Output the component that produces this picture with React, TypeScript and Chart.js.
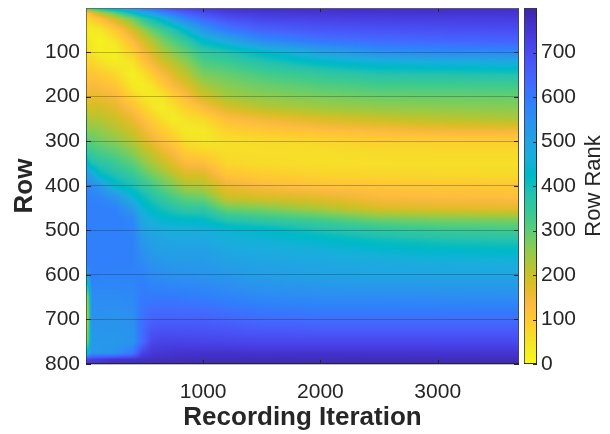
import React, { useEffect, useRef } from "react";
import { Chart, registerables } from "chart.js";

Chart.register(...registerables);

const rowStops = [1, 12, 25, 50, 75, 100, 125, 150, 175, 200, 225, 250, 275, 300, 325, 350, 375, 400, 425, 450, 475, 500, 525, 550, 575, 600, 650, 700, 750, 775, 790, 800];
const iterationStops = [1, 15, 50, 120, 250, 400, 480, 560, 650, 750, 850, 1000, 1200, 1500, 2000, 2500, 3000, 3693];

const rankAt1 = [400, 130, 90, 50, 60, 70, 90, 120, 150, 200, 300, 400, 430, 470, 500, 530, 550, 570, 570, 570, 570, 570, 570, 570, 560, 450, 300, 250, 300, 400, 700, 740];
const rankAt15 = [350, 120, 70, 40, 50, 60, 70, 110, 130, 150, 190, 220, 250, 290, 340, 430, 510, 560, 580, 590, 590, 590, 590, 590, 590, 530, 250, 220, 280, 450, 720, 750];
const rankAt50 = [360, 160, 90, 35, 35, 50, 80, 110, 140, 160, 190, 220, 260, 300, 340, 390, 500, 560, 580, 590, 590, 590, 590, 590, 590, 590, 560, 545, 530, 530, 730, 760];
const rankAt120 = [420, 220, 120, 45, 18, 30, 60, 100, 130, 160, 190, 220, 250, 280, 320, 370, 420, 530, 570, 590, 590, 590, 590, 590, 590, 580, 560, 545, 530, 530, 740, 765];
const rankAt250 = [500, 300, 200, 100, 50, 25, 35, 70, 110, 140, 170, 195, 225, 260, 300, 340, 385, 430, 540, 580, 590, 590, 590, 590, 590, 580, 560, 540, 530, 540, 760, 775];
const rankAt400 = [560, 420, 280, 190, 130, 90, 45, 25, 40, 80, 120, 160, 190, 220, 260, 300, 345, 395, 450, 520, 570, 580, 585, 585, 585, 580, 565, 550, 540, 600, 760, 778];
const rankAt480 = [600, 480, 350, 240, 180, 140, 100, 50, 30, 50, 85, 125, 160, 190, 225, 265, 310, 360, 410, 450, 490, 510, 530, 550, 565, 580, 600, 620, 630, 720, 765, 775];
const rankAt560 = [630, 520, 400, 290, 220, 180, 140, 90, 50, 35, 55, 90, 125, 160, 200, 235, 280, 330, 380, 420, 460, 490, 510, 525, 545, 560, 600, 650, 710, 745, 770, 780];
const rankAt650 = [670, 570, 450, 330, 270, 225, 180, 135, 90, 45, 30, 60, 95, 130, 165, 205, 250, 295, 345, 395, 440, 480, 495, 510, 535, 555, 600, 655, 720, 750, 772, 785];
const rankAt750 = [710, 620, 520, 380, 310, 260, 215, 175, 140, 90, 55, 30, 65, 100, 135, 170, 215, 265, 315, 370, 430, 470, 490, 510, 525, 545, 600, 655, 722, 755, 775, 785];
const rankAt850 = [720, 660, 580, 440, 350, 295, 250, 210, 170, 130, 85, 55, 40, 60, 95, 135, 180, 230, 290, 350, 425, 470, 490, 510, 525, 545, 595, 655, 718, 758, 776, 786];
const rankAt1000 = [745, 700, 640, 530, 430, 350, 310, 270, 230, 190, 130, 70, 40, 45, 80, 130, 180, 220, 280, 350, 420, 470, 490, 510, 525, 540, 590, 655, 715, 760, 778, 787];
const rankAt1200 = [760, 730, 690, 600, 480, 380, 330, 290, 260, 235, 180, 125, 85, 58, 62, 75, 110, 160, 195, 280, 370, 450, 470, 490, 510, 530, 580, 645, 715, 760, 778, 787];
const rankAt1500 = [770, 745, 715, 650, 560, 430, 370, 320, 285, 255, 215, 150, 105, 65, 60, 65, 95, 135, 180, 265, 350, 435, 460, 480, 500, 510, 565, 630, 710, 758, 778, 787];
const rankAt2000 = [770, 750, 725, 675, 610, 500, 420, 350, 310, 272, 238, 180, 125, 75, 60, 60, 80, 115, 165, 225, 320, 390, 440, 470, 490, 500, 560, 625, 708, 760, 778, 787];
const rankAt2500 = [770, 752, 730, 685, 630, 550, 450, 375, 325, 285, 250, 200, 140, 88, 68, 60, 75, 110, 135, 180, 280, 360, 410, 450, 480, 495, 560, 625, 708, 758, 778, 787];
const rankAt3000 = [770, 754, 733, 690, 640, 565, 460, 380, 328, 288, 255, 215, 150, 90, 70, 60, 72, 105, 130, 170, 270, 340, 395, 440, 475, 495, 558, 625, 708, 756, 778, 787];
const rankAt3693 = [770, 755, 735, 695, 650, 570, 470, 385, 330, 290, 260, 225, 155, 90, 70, 60, 70, 100, 125, 165, 265, 330, 385, 435, 470, 495, 555, 625, 708, 755, 778, 787];

const rankColumns = [rankAt1, rankAt15, rankAt50, rankAt120, rankAt250, rankAt400, rankAt480, rankAt560, rankAt650, rankAt750, rankAt850, rankAt1000, rankAt1200, rankAt1500, rankAt2000, rankAt2500, rankAt3000, rankAt3693];

const rowTicks = [100, 200, 300, 400, 500, 600, 700, 800];
const iterationTicks = [1000, 2000, 3000];
const rankTicks = [0, 100, 200, 300, 400, 500, 600, 700];

const parula = [
  [.2422, .1504, .6603], [.2504, .165, .7076], [.2578, .1818, .7511], [.2647, .1978, .7952], [.2706, .2147, .8364], [.2751, .2342, .871], [.2783, .2559, .8991], [.2803, .2782, .9221],
  [.2813, .3006, .9414], [.281, .3228, .9579], [.2795, .3447, .9717], [.276, .3667, .9829], [.2699, .3892, .9906], [.2602, .4123, .9952], [.244, .4358, .9988], [.2206, .4603, .9973],
  [.1963, .4847, .9892], [.1834, .5074, .9798], [.1786, .5289, .9682], [.1764, .5499, .952], [.1687, .5703, .9359], [.154, .5902, .9218], [.146, .6091, .9079], [.138, .6276, .8973],
  [.1248, .6459, .8883], [.1113, .6635, .8763], [.0952, .6798, .8598], [.0689, .6948, .8394], [.0297, .7082, .8163], [.0036, .7203, .7917], [.0067, .7312, .766], [.0433, .7411, .7394],
  [.0964, .75, .712], [.1408, .7584, .6842], [.1717, .767, .6554], [.1938, .7758, .6251], [.2161, .7843, .5923], [.247, .7918, .5567], [.2906, .7973, .5188], [.3406, .8008, .4789],
  [.3909, .8029, .4354], [.4456, .8024, .3909], [.5044, .7993, .348], [.5616, .7942, .3045], [.6174, .7876, .2612], [.672, .7793, .2227], [.7242, .7698, .191], [.7738, .7598, .1646],
  [.8203, .7498, .1535], [.8634, .7406, .1596], [.9035, .733, .1774], [.9393, .7288, .21], [.9728, .7298, .2394], [.9956, .7434, .2371], [.997, .7659, .2199], [.9952, .7861, .1967],
  [.9892, .8106, .1816], [.9786, .8386, .1717], [.9676, .8643, .162], [.961, .8919, .1535], [.9597, .9135, .1423], [.9628, .9373, .1265], [.9691, .9606, .1064], [.9769, .9839, .0805],
];

const FONT = "'Liberation Sans', Arial, sans-serif";
const INK = "#262626";

function rankColor(rank: number): number[] {
  const t = Math.min(1, Math.max(0, 1 - rank / 800)) * 63;
  const i = Math.min(62, Math.floor(t));
  const f = t - i;
  return parula[i].map((c, k) => 255 * (c + (parula[i + 1][k] - c) * f));
}

function bracket(stops: number[], v: number): [number, number] {
  let i = 0;
  while (i < stops.length - 2 && stops[i + 1] < v) i++;
  const f = Math.min(1, Math.max(0, (v - stops[i]) / (stops[i + 1] - stops[i])));
  return [i, f];
}

const noPadding = (s: any) => {
  s.paddingTop = 0;
  s.paddingBottom = 0;
  s.paddingLeft = 0;
  s.paddingRight = 0;
};

const heatPlugin = {
  id: "rankHeat",
  beforeDraw(chart: any) {
    const { ctx, chartArea: a, scales } = chart;
    const w = Math.round(a.right - a.left);
    const h = Math.round(a.bottom - a.top);
    const img = ctx.createImageData(w, h);
    const xs = [];
    for (let px = 0; px < w; px++) xs.push(bracket(iterationStops, scales.x.getValueForPixel(a.left + px + 0.5)));
    for (let py = 0; py < h; py++) {
      const [r, fr] = bracket(rowStops, scales.y.getValueForPixel(a.top + py + 0.5));
      for (let px = 0; px < w; px++) {
        const [c, fc] = xs[px];
        const top = rankColumns[c][r] * (1 - fc) + rankColumns[c + 1][r] * fc;
        const bot = rankColumns[c][r + 1] * (1 - fc) + rankColumns[c + 1][r + 1] * fc;
        const col = rankColor(top * (1 - fr) + bot * fr);
        const o = (py * w + px) * 4;
        img.data[o] = col[0];
        img.data[o + 1] = col[1];
        img.data[o + 2] = col[2];
        img.data[o + 3] = 255;
      }
    }
    ctx.putImageData(img, Math.round(a.left), Math.round(a.top));

    const bar = scales.rank;
    for (let py = Math.round(a.top); py < Math.round(a.bottom); py++) {
      const col = rankColor(bar.getValueForPixel(py + 0.5));
      ctx.fillStyle = `rgb(${col[0]},${col[1]},${col[2]})`;
      ctx.fillRect(a.right + 5, py, 13, 1);
    }
  },
  afterDraw(chart: any) {
    const { ctx, chartArea: a, scales } = chart;
    ctx.save();
    ctx.lineWidth = 1;
    const line = (x0: number, y0: number, x1: number, y1: number, color = INK) => {
      ctx.strokeStyle = color;
      ctx.beginPath();
      ctx.moveTo(x0, y0);
      ctx.lineTo(x1, y1);
      ctx.stroke();
    };
    for (const t of rowTicks) {
      const y = Math.round(scales.y.getPixelForValue(t)) + 0.5;
      line(a.left, y, a.left + 5, y);
      line(a.right - 5, y, a.right, y);
    }
    for (const t of iterationTicks) {
      const x = Math.round(scales.x.getPixelForValue(t)) + 0.5;
      line(x, a.bottom, x, a.bottom - 4);
      line(x, a.top, x, a.top + 4);
    }
    line(a.left + 0.5, a.top, a.left + 0.5, a.bottom, "rgba(38,38,38,0.55)");
    line(a.left, a.top + 0.5, a.right, a.top + 0.5, "rgba(100,100,100,0.8)");
    line(a.right - 0.5, a.top, a.right - 0.5, a.bottom, "rgba(70,70,70,0.9)");
    line(a.left, a.bottom - 0.5, a.right, a.bottom - 0.5, "rgba(38,38,38,0.95)");

    const bl = a.right + 5;
    const br = a.right + 18;
    line(bl + 0.5, a.top, bl + 0.5, a.bottom, "rgba(60,60,60,0.8)");
    line(br - 0.5, a.top, br - 0.5, a.bottom, "rgba(40,40,40,0.95)");
    line(bl, a.top + 0.5, br, a.top + 0.5, "rgba(60,60,60,0.8)");
    line(bl, a.bottom - 0.5, br, a.bottom - 0.5, "rgba(40,40,40,0.95)");
    for (const t of rankTicks) {
      const y = Math.round(scales.rank.getPixelForValue(t)) + 0.5;
      line(br - 4, y, br, y);
    }

    ctx.fillStyle = INK;
    ctx.font = `22px ${FONT}`;
    ctx.textAlign = "center";
    ctx.textBaseline = "middle";
    ctx.translate(594, (a.top + a.bottom) / 2);
    ctx.rotate(-Math.PI / 2);
    ctx.fillText("Row Rank", 0, 0);
    ctx.restore();
  },
};

export default function App() {
  const ref = useRef<HTMLCanvasElement | null>(null);
  useEffect(() => {
    document.body.style.margin = "0";
    const points: { x: number; y: number }[] = [];
    iterationStops.forEach((x) => rowStops.forEach((y) => points.push({ x, y })));
    const chart = new Chart(ref.current as HTMLCanvasElement, {
      type: "scatter",
      data: { datasets: [{ label: "Row Rank", data: points, pointRadius: 0 }] },
      plugins: [heatPlugin],
      options: {
        animation: false,
        responsive: false,
        layout: { padding: { top: 8, left: 0, right: 0, bottom: 0 } },
        plugins: { legend: { display: false }, tooltip: { enabled: false } },
        scales: {
          x: {
            type: "linear",
            min: 1,
            max: 3693,
            position: "bottom",
            afterFit: (s: any) => { s.height = 70; noPadding(s); },
            afterBuildTicks: (s: any) => { s.ticks = iterationTicks.map((value) => ({ value })); },
            border: { display: false },
            grid: { display: false },
            ticks: { color: INK, font: { family: FONT, size: 21 }, padding: 8, maxRotation: 0, callback: (v: any) => String(v) },
            title: { display: true, text: "Recording Iteration", color: INK, font: { family: FONT, size: 26, weight: "bold" }, padding: { top: 0, bottom: 1 } },
          },
          y: {
            type: "linear",
            min: 1,
            max: 800,
            reverse: true,
            position: "left",
            afterFit: (s: any) => { s.width = 86; noPadding(s); },
            afterBuildTicks: (s: any) => { s.ticks = rowTicks.map((value) => ({ value })); },
            border: { display: false },
            grid: { drawTicks: false, lineWidth: 1, color: "rgba(38,38,38,0.3)" },
            ticks: { color: INK, font: { family: FONT, size: 21 }, padding: 6, callback: (v: any) => String(v) },
            title: { display: true, text: "Row", color: INK, font: { family: FONT, size: 26, weight: "bold" }, padding: { top: 9, bottom: 0 } },
          },
          rank: {
            type: "linear",
            min: 0,
            max: 800,
            position: "right",
            afterFit: (s: any) => { s.width = 91; noPadding(s); },
            afterBuildTicks: (s: any) => { s.ticks = rankTicks.map((value) => ({ value })); },
            border: { display: false },
            grid: { display: false, drawTicks: false },
            ticks: { color: INK, font: { family: FONT, size: 21 }, padding: 22, callback: (v: any) => String(v) },
          },
        },
      },
    } as any);
    return () => chart.destroy();
  }, []);
  return (
    <div style={{ position: "fixed", left: 0, top: 0, width: 610, height: 434 }}>
      <canvas ref={ref} width={610} height={434} style={{ display: "block" }} />
    </div>
  );
}
